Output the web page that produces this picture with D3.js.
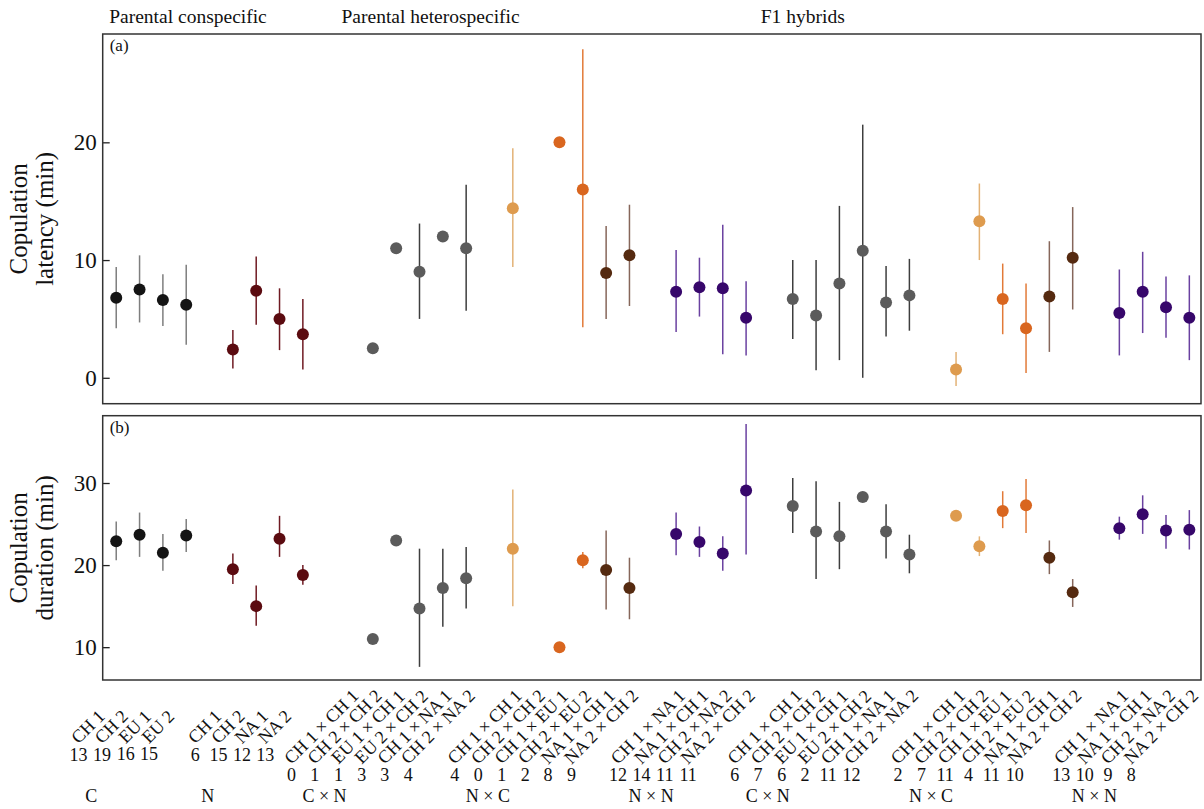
<!DOCTYPE html>
<html>
<head>
<meta charset="utf-8">
<script src="https://cdn.jsdelivr.net/npm/d3@7"></script>
<style>
body { margin: 0; background: #fff; }
text { font-family: "Liberation Serif", "DejaVu Serif", serif; fill: #111; }
</style>
</head>
<body>
<svg class="chart"></svg>
<script>
// groups along the x axis, left to right
var groups = ["C", "N", "C × N", "N × C", "N × N", "C × N", "N × C", "N × N"];
var kinds  = ["C", "N", "CxN", "NxC", "NxN", "CxN", "NxC", "NxN"];

var labels = [
  ["CH 1", "CH 2", "EU 1", "EU 2"],
  ["CH 1", "CH 2", "NA 1", "NA 2"],
  ["CH 1 × CH 1", "CH 2 × CH 2", "EU 1 × CH 1", "EU 2 × CH 2", "CH 1 × NA 1", "CH 2 × NA 2"],
  ["CH 1 × CH 1", "CH 2 × CH 2", "CH 1 × EU 1", "CH 2 × EU 2", "NA 1 × CH 1", "NA 2 × CH 2"],
  ["CH 1 × NA 1", "NA 1 × CH 1", "CH 2 × NA 2", "NA 2 × CH 2"],
  ["CH 1 × CH 1", "CH 2 × CH 2", "EU 1 × CH 1", "EU 2 × CH 2", "CH 1 × NA 1", "CH 2 × NA 2"],
  ["CH 1 × CH 1", "CH 2 × CH 2", "CH 1 × EU 1", "CH 2 × EU 2", "NA 1 × CH 1", "NA 2 × CH 2"],
  ["CH 1 × NA 1", "NA 1 × CH 1", "CH 2 × NA 2", "NA 2 × CH 2"]
];

var counts = [
  [13, 19, 16, 15],
  [6, 15, 12, 13],
  [0, 1, 1, 3, 3, 4],
  [4, 0, 1, 2, 8, 9],
  [12, 14, 11, 11],
  [6, 7, 6, 2, 11, 12],
  [2, 7, 11, 4, 11, 10],
  [13, 10, 9, 8]
];

var headers = ["Parental conspecific", "Parental heterospecific", "F1 hybrids"];
var headerGroup = [0, 2, 5];

// (a) copulation latency, min (mean and error bar ends), one per label
var latMean = [6.8, 7.5, 6.6, 6.2,
  2.4, 7.4, 5.0, 3.7,
  null, 2.5, 11.0, 9.0, 12.0, 11.0,
  14.4, null, 20.0, 16.0, 8.9, 10.4,
  7.3, 7.7, 7.6, 5.1,
  6.7, 5.3, 8.0, 10.8, 6.4, 7.0,
  0.7, 13.3, 6.7, 4.2, 6.9, 10.2,
  5.5, 7.3, 6.0, 5.1];
var latLo = [4.2, 4.7, 4.4, 2.8,
  0.8, 4.5, 2.35, 0.7,
  null, null, null, 5.0, null, 5.7,
  9.4, null, null, 4.3, 5.0, 6.1,
  3.9, 5.2, 2.0, 1.9,
  3.3, 0.65, 1.5, 0.0, 3.5, 4.0,
  -0.7, 10.0, 3.7, 0.4, 2.2, 5.8,
  1.9, 3.8, 3.4, 1.5];
var latHi = [9.4, 10.4, 8.8, 9.6,
  4.05, 10.3, 7.6, 6.7,
  null, null, null, 13.1, null, 16.4,
  19.5, null, null, 27.9, 12.9, 14.7,
  10.85, 10.2, 13.0, 8.2,
  10.0, 10.0, 14.6, 21.5, 9.5, 10.1,
  2.2, 16.5, 9.7, 8.0, 11.6, 14.5,
  9.2, 10.7, 8.6, 8.7];

// (b) copulation duration, min
var durMean = [22.9, 23.7, 21.5, 23.6,
  19.5, 15.0, 23.2, 18.8,
  null, 11.0, 23.0, 14.7, 17.2, 18.4,
  22.0, null, 10.0, 20.6, 19.4, 17.2,
  23.8, 22.8, 21.4, 29.1,
  27.2, 24.1, 23.5, 28.3, 24.1, 21.3,
  26.0, 22.3, 26.6, 27.3, 20.9, 16.7,
  24.5, 26.2, 24.2, 24.3];
var durLo = [20.6, 21.0, 19.3, 21.6,
  17.7, 12.6, 21.0, 17.6,
  null, null, null, 7.6, 12.5, 14.7,
  15.0, null, null, 19.6, 14.6, 13.4,
  21.2, 21.0, 19.3, 21.3,
  23.9, 18.3, 19.5, null, 20.8, 19.0,
  null, 21.1, 24.5, 23.9, 18.9, 14.9,
  23.1, 23.8, 22.0, 21.9];
var durHi = [25.3, 26.4, 23.8, 25.6,
  21.4, 17.5, 26.0, 20.0,
  null, null, null, 22.0, 22.0, 22.2,
  29.2, null, null, 21.6, 24.2, 20.9,
  26.4, 24.7, 23.5, 37.2,
  30.6, 30.2, 27.7, null, 27.4, 23.7,
  null, 23.5, 29.0, 30.5, 23.0, 18.3,
  25.9, 28.5, 26.1, 26.7];

var palette = {
  C:   {pt: "#141414", bar: "#7e7e7e"},
  N:   {pt: "#5b0b10", bar: "#6f1a22"},
  CxN: {pt: "#5b5b5b", bar: "#3e3e3e"},
  NxN: {pt: "#37076b", bar: "#6a41a0"},
  CH:  {pt: "#de9b4e", bar: "#e3b276"},
  EU:  {pt: "#d9661f", bar: "#e27a38"},
  NA:  {pt: "#552a10", bar: "#86665a"}
};

function colorKey(kind, label) {
  if (kind != "NxC") return kind;
  if (label.indexOf("NA") == 0) return "NA";
  if (label.indexOf("EU") >= 0) return "EU";
  return "CH";
}

// one slot per label, one empty slot between groups
var items = [];
var slot = 0;
groups.forEach(function(g, gi) {
  labels[gi].forEach(function(l, li) {
    items.push({group: gi, label: l, n: counts[gi][li], slot: slot, key: colorKey(kinds[gi], l)});
    slot++;
  });
  slot++;
});
items.forEach(function(d, i) {
  d.lat = [latMean[i], latLo[i], latHi[i]];
  d.dur = [durMean[i], durLo[i], durHi[i]];
});

var W = 1204, H = 809;
var left = 102.7, right = 1201;

var svg = d3.select('.chart')
  .attr('width', W)
  .attr('height', H);

var x = d3.scaleLinear()
  .domain([-0.58, 46.5])
  .range([left, right]);

function panel(top, bottom, domain, ticks, field, tag, title) {
  var y = d3.scaleLinear().domain(domain).range([bottom, top]);

  var g = svg.append('g');

  g.append('g')
    .attr('transform', 'translate(' + left + ',0)')
    .call(d3.axisLeft(y).tickValues(ticks).tickSize(-7).tickPadding(6))
    .call(function(a) {
      a.select('.domain').remove();
      a.selectAll('line').attr('stroke', '#222').attr('stroke-width', 1.3);
      a.selectAll('text')
        .style('font-family', '"Liberation Serif", serif')
        .style('font-size', '23px')
        .attr('fill', '#111');
    });

  g.append('rect')
    .attr('x', left).attr('y', top)
    .attr('width', right - left).attr('height', bottom - top)
    .attr('fill', 'none')
    .attr('stroke', '#333')
    .attr('stroke-width', 1.5);

  g.append('text')
    .attr('x', left + 7).attr('y', top + 17)
    .style('font-size', '17px')
    .text(tag);

  var cy = (top + bottom) / 2;
  title.forEach(function(t, i) {
    g.append('text')
      .attr('transform', 'translate(' + (27 + i * 26) + ',' + cy + ') rotate(-90)')
      .style('text-anchor', 'middle')
      .style('font-size', '25px')
      .text(t);
  });

  var withBars = items.filter(function(d) { return d[field][0] != null && d[field][1] != null; });
  g.selectAll('line.err')
    .data(withBars)
    .enter().append('line')
    .attr('class', 'err')
    .attr('x1', function(d) { return x(d.slot); })
    .attr('x2', function(d) { return x(d.slot); })
    .attr('y1', function(d) { return y(d[field][1]); })
    .attr('y2', function(d) { return y(d[field][2]); })
    .attr('stroke', function(d) { return palette[d.key].bar; })
    .attr('stroke-width', 1.5);

  g.selectAll('circle')
    .data(items.filter(function(d) { return d[field][0] != null; }))
    .enter().append('circle')
    .attr('cx', function(d) { return x(d.slot); })
    .attr('cy', function(d) { return y(d[field][0]); })
    .attr('r', 6)
    .attr('fill', function(d) { return palette[d.key].pt; });
}

panel(34, 403.7, [-2.2, 29.2], [0, 10, 20], 'lat', '(a)', ['Copulation', 'latency (min)']);
panel(415.7, 680, [6.0, 38.2], [10, 20, 30], 'dur', '(b)', ['Copulation', 'duration (min)']);

// group headers along the top
var headerShift = [-7, -8, -32];
svg.selectAll('text.header')
  .data(headers)
  .enter().append('text')
  .attr('class', 'header')
  .attr('x', function(d, i) {
    var first = items.filter(function(it) { return it.group == headerGroup[i]; })[0];
    return x(first.slot) + headerShift[i];
  })
  .attr('y', 23)
  .style('font-size', '19.5px')
  .text(function(d) { return d; });

// rotated category labels, with sample sizes under their start
var lab = svg.append('g');
items.forEach(function(d) {
  var cx = x(d.slot) - 24, cy = 731;
  var t = lab.append('text')
    .attr('transform', 'translate(' + cx + ',' + cy + ') rotate(-45)')
    .style('text-anchor', 'middle')
    .style('font-size', '18px')
    .text(d.label);
  var L = t.node().getComputedTextLength();
  var sx = cx - L / 2 * Math.SQRT1_2, sy = cy + L / 2 * Math.SQRT1_2;
  lab.append('text')
    .attr('x', sx)
    .attr('y', sy + 16)
    .style('text-anchor', 'middle')
    .style('font-size', '18px')
    .text(d.n);
});

// group names on the bottom row
svg.selectAll('text.grp')
  .data(groups)
  .enter().append('text')
  .attr('class', 'grp')
  .attr('x', function(d, i) {
    var first = items.filter(function(it) { return it.group == i; })[0];
    return x(first.slot) - 25;
  })
  .attr('y', 802)
  .style('text-anchor', 'middle')
  .style('font-size', '18px')
  .text(function(d) { return d; });
</script>
</body>
</html>
